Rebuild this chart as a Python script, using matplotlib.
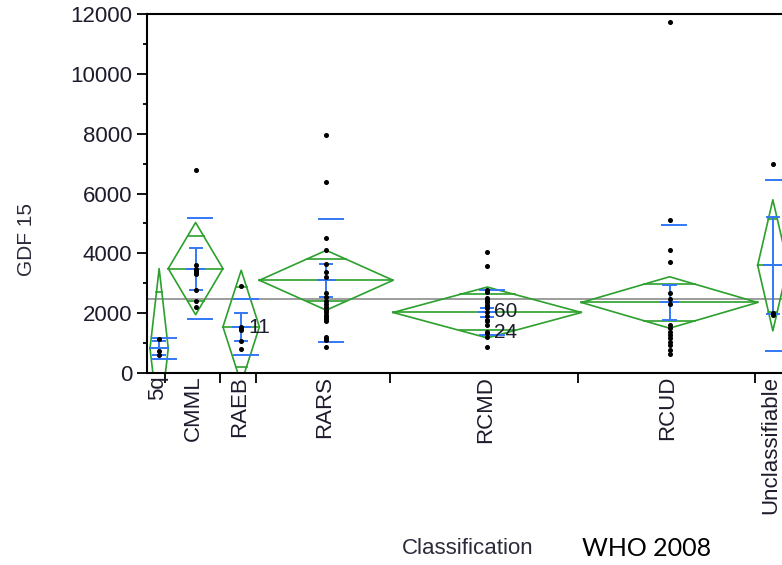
import numpy as np
import matplotlib.pyplot as plt

plt.rcParams['font.family'] = ['Liberation Sans', 'DejaVu Sans']

# Groupes WHO 2008 et effectifs (largeur de chaque groupe sur l'axe X)
groups = ['5q', 'CMML', 'RAEB', 'RARS', 'RCMD', 'RCUD', 'Unclassifiable']
group_n = [3, 9, 6, 22, 31, 29, 5]

# Moyennes, demi-hauteur des losanges (IC 95%), écart-type, erreur standard
means = [823, 3490, 1543, 3100, 2023, 2357, 3600]
ci_half = [2667, 1540, 1890, 1000, 850, 860, 2190]
std_devs = [360, 1695, 928, 2055, 765, 2576, 2857]
std_errs = [230, 700, 467, 557, 140, 580, 1620]
grand_mean = 2490

# Valeurs individuelles de GDF 15
pts_5q = [1120, 750, 600]
pts_cmml = [6770, 3600, 3480, 3400, 3350, 3300, 2790, 2410, 2190]
pts_raeb = [2910, 1540, 1500, 1450, 1070, 790]
pts_rars = [7970, 6370, 4510, 4120, 3650, 3380, 3200, 2660, 2550, 2400, 2300,
            2210, 2120, 2040, 1950, 1880, 1800, 1730, 1210, 1150, 1100, 870]
pts_rcmd = [4040, 3580, 2770, 2710, 2510, 2430, 2380, 2270, 2190, 2160, 2040,
            1900, 1770, 1740, 1600, 1380, 1340, 1210, 860]
pts_rcud = [11740, 5100, 4120, 3710, 2660, 2490, 2320, 1600, 1490, 1380, 1270,
            1160, 1050, 930, 770, 630]
pts_uncl = [6970, 1990, 1950]
group_points = [pts_5q, pts_cmml, pts_raeb, pts_rars, pts_rcmd, pts_rcud, pts_uncl]

# Etiquettes de lignes affichées à côté de certains points
label_text = ['11', '60', '24']
label_group = ['RAEB', 'RCMD', 'RCMD']
label_value = [1523, 2043, 1360]

green = '#2ca02c'
blue = '#3478f6'
txt_color = '#1c1c2c'

fig = plt.figure(figsize=(7.82, 5.65), dpi=100)
# axes en pixels : gauche 147, bas 192, largeur 638, hauteur 359
ax = fig.add_axes([147 / 782, 192 / 565, 638 / 782, 359 / 565])

bounds = np.cumsum([0] + group_n)
centers = bounds[:-1] + np.array(group_n) / 2 + 0.5

ax.axhline(grand_mean, color='#8c8c8c', lw=1.2, zorder=1)

for i in range(len(groups)):
    c = centers[i]
    hw = group_n[i] / 2
    m = means[i]
    h = ci_half[i]
    # losange des moyennes
    ax.plot([c - hw, c, c + hw, c, c - hw], [m, m + h, m, m - h, m], color=green, lw=1.2, zorder=2)
    ax.plot([c - hw, c + hw], [m, m], color=green, lw=1.2, zorder=2)
    o = h / np.sqrt(2)
    wo = hw * (1 - 1 / np.sqrt(2))
    for s in (1, -1):
        ax.plot([c - wo, c + wo], [m + s * o] * 2, color=green, lw=1.2, zorder=2)
    # lignes d'écart-type
    for s in (1, -1):
        ax.plot([c - 1.2, c + 2.7], [m + s * std_devs[i]] * 2, color=blue, lw=1.4, zorder=3)
    # barres d'erreur de la moyenne
    se = std_errs[i]
    ax.plot([c, c], [m - se, m + se], color=blue, lw=1.4, zorder=3)
    for s in (1, -1):
        ax.plot([c - 1.0, c + 1.0], [m + s * se] * 2, color=blue, lw=1.4, zorder=3)
    ax.plot([c - 1.4, c + 1.4], [m, m], color=blue, lw=1.4, zorder=3)
    # points individuels
    ax.plot([c] * len(group_points[i]), group_points[i], 'o', ms=2.6, color='black', zorder=5)

for t, g, v in zip(label_text, label_group, label_value):
    c = centers[groups.index(g)]
    ax.annotate(t, (c, v), xytext=(5, 0), textcoords='offset points',
                ha='left', va='center', fontsize=15, color=txt_color, zorder=6)

ax.set_xlim(0, bounds[-1])
ax.set_ylim(0, 12000)

# étiquettes de groupes légèrement à gauche pour que "Unclassifiable" reste visible
label_pos = centers - 0.3

ax.set_xticks(bounds[1:-1])
ax.set_xticklabels([])
ax.set_xticks(label_pos, minor=True)
ax.set_xticklabels(groups, minor=True, rotation=90, fontsize=16, color=txt_color)
ax.tick_params(axis='x', which='major', length=7, width=1.3, direction='out')
ax.tick_params(axis='x', which='minor', length=0, pad=2)

ax.set_yticks(np.arange(0, 12001, 2000))
ax.set_yticks(np.arange(1000, 12000, 2000), minor=True)
ax.tick_params(axis='y', which='major', length=7.5, width=1.3, pad=3, labelsize=16, labelcolor=txt_color)
ax.tick_params(axis='y', which='minor', length=3, width=1.3)

for sp in ['left', 'bottom', 'top']:
    ax.spines[sp].set_linewidth(1.5)
ax.spines['right'].set_visible(False)

fig.text(26 / 782, 1 - 240 / 565, 'GDF 15', rotation=90, ha='center', va='center',
         fontsize=15, color='#2b2b3a')
fig.text(468 / 782, 1 - 548 / 565, 'Classification', ha='center', va='center',
         fontsize=16, color='#2b2b3a')
fig.text(582 / 782, 1 - 548 / 565, 'WHO 2008', ha='left', va='center',
         fontsize=18, family=['Lato', 'DejaVu Sans'], color='black')

fig.savefig('out.png', dpi=100)
